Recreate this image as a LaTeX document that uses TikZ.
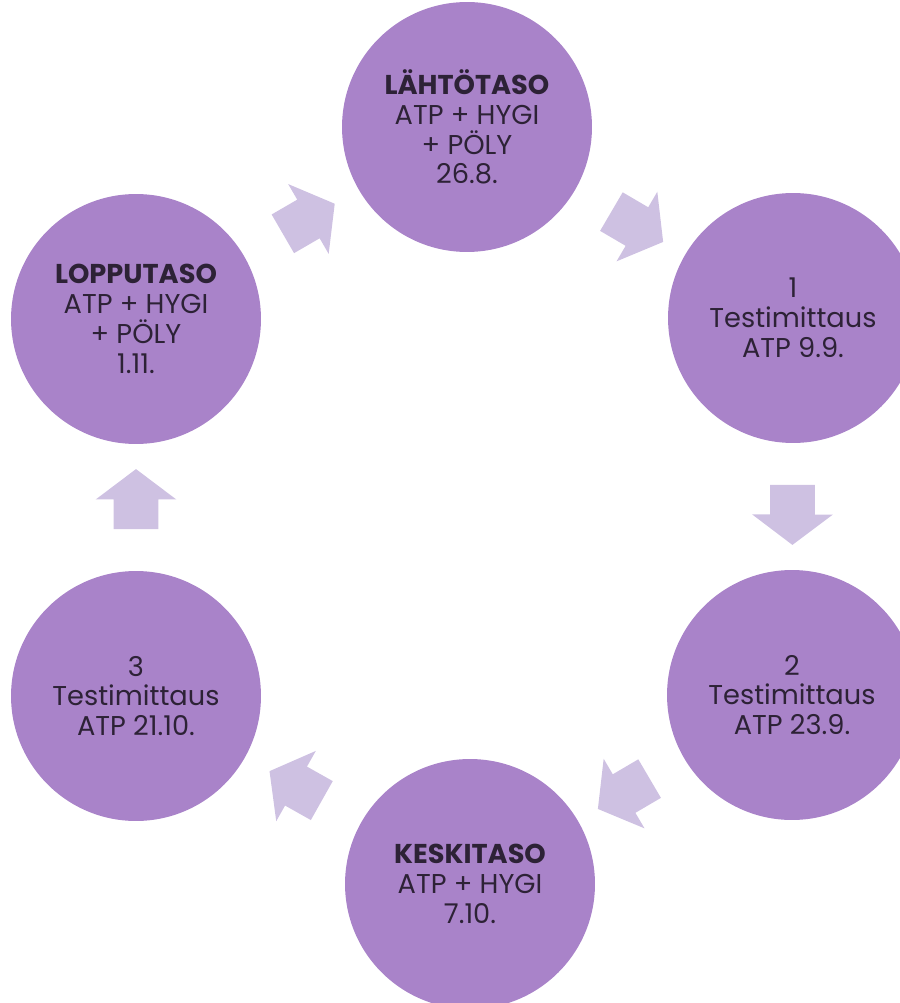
\documentclass[tikz,border=0pt]{standalone}
\usepackage{fontspec}
\setmainfont{Poppins}
\usetikzlibrary{shapes.arrows}
\definecolor{phasefill}{HTML}{A983C9}
\definecolor{arrowfill}{HTML}{CEC1E2}
\definecolor{phaseink}{HTML}{2D2236}
\begin{document}
\begin{tikzpicture}
[x=0.02cm,y=-0.02cm,
  phasedecorate/.style={shape=circle,fill=phasefill,minimum size=5cm,inner sep=0pt,%
    align=center,text=phaseink,font=\fontsize{15.5}{17}\selectfont},
  arrowdecorate/.style={single arrow,fill=arrowfill,minimum height=1.2cm,%
    minimum width=1.6cm,inner xsep=0pt,inner ysep=0.44cm,single arrow head extend=0.36cm,%
    single arrow tip angle=106,sloped,allow upside down}]
\useasboundingbox (0,0) rectangle (899,1003);
%% phases of the measurement cycle
\foreach \nodename/\x/\y/\nodetext in {
  lahto/467/127/{\textbf{LÄHTÖTASO}\\ATP + HYGI\\+ PÖLY\\26.8.},
  testa/793/318/{1\\Testimittaus\\ATP 9.9.},
  testb/792/695/{2\\Testimittaus\\ATP 23.9.},
  keski/470/884/{\textbf{KESKITASO}\\ATP + HYGI\\7.10.},
  testc/136/696/{3\\Testimittaus\\ATP 21.10.},
  loppu/136/319/{\textbf{LOPPUTASO}\\ATP + HYGI\\+ PÖLY\\1.11.}}
{
  \node (\nodename) at (\x,\y) [phasedecorate] {\nodetext};
}
%% block arrows between phases
\path
\foreach \startnode/\endnode in {lahto/testa, testa/testb, testb/keski,
  keski/testc, testc/loppu, loppu/lahto} {
  (\startnode) -- node[arrowdecorate] {} (\endnode)
};
\end{tikzpicture}
\end{document}
